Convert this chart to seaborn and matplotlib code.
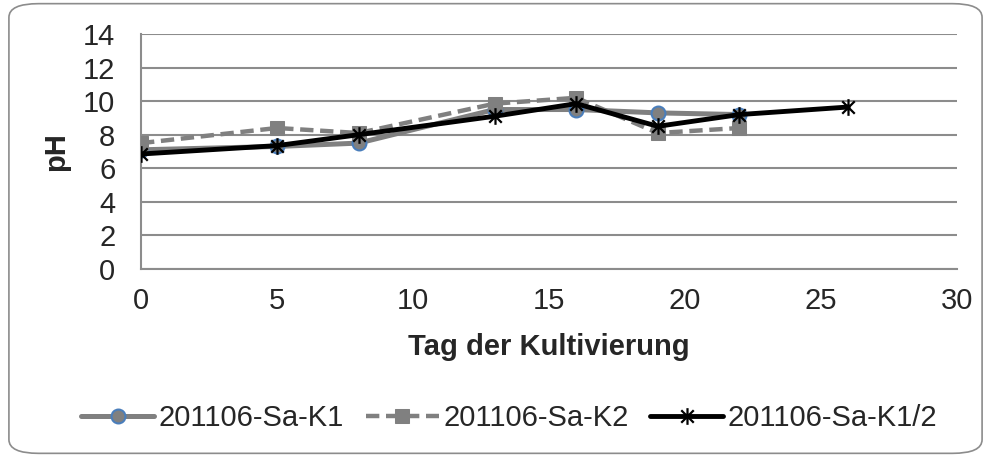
import numpy as np
import pandas as pd
import matplotlib
matplotlib.use("Agg")
import matplotlib.pyplot as plt
import seaborn as sns
from matplotlib.patches import FancyBboxPatch
from matplotlib.path import Path

# ------------------------------------------------------------------
# DATEN
# ------------------------------------------------------------------
tage_k1 = [0, 5, 8, 13, 16, 19, 22]
ph_k1 = [7.1, 7.3, 7.5, 9.5, 9.5, 9.3, 9.2]

tage_k2 = [0, 5, 8, 13, 16, 19, 22]
ph_k2 = [7.5, 8.4, 8.1, 9.85, 10.2, 8.1, 8.4]

tage_k12 = [0, 5, 8, 13, 16, 19, 22, 26]
ph_k12 = [6.85, 7.35, 8.0, 9.1, 9.85, 8.5, 9.2, 9.65]

serien = ["201106-Sa-K1", "201106-Sa-K2", "201106-Sa-K1/2"]

sns.set_style("white")
plt.rcParams['font.family'] = ['Liberation Sans', 'DejaVu Sans']

GRAU = '#808080'
GITTER = '#8c8c8c'
FS = 21

# Excel-Sternchen: X mit senkrechtem Strich
stern = Path([(0, -1), (0, 1), (-0.75, -0.75), (0.75, 0.75),
              (-0.75, 0.75), (0.75, -0.75)],
             [Path.MOVETO, Path.LINETO] * 3)

fig = plt.figure(figsize=(9.91, 4.57), dpi=100)
ax = fig.add_axes([0.1423, 0.4114, 0.8234, 0.5142])

# K1: graue Linie, Kreis mit blauem Rand
sns.lineplot(x=tage_k1, y=ph_k1, ax=ax, color=GRAU, linewidth=3.6,
             marker='o', markersize=10, markerfacecolor=GRAU,
             markeredgecolor='#4a7ebb', markeredgewidth=1.5,
             label=serien[0], sort=False, estimator=None, zorder=3)
# K2: gestrichelt, Quadrate
sns.lineplot(x=tage_k2, y=ph_k2, ax=ax, color=GRAU, linewidth=3.2,
             linestyle=(0, (3, 1.5)), marker='s', markersize=10,
             markerfacecolor=GRAU, markeredgecolor=GRAU,
             label=serien[1], sort=False, estimator=None, zorder=4)
# K1/2: schwarz, Sternchen
sns.lineplot(x=tage_k12, y=ph_k12, ax=ax, color='black', linewidth=3.5,
             marker=stern, markersize=12, markeredgecolor='black',
             markeredgewidth=1.6,
             label=serien[2], sort=False, estimator=None, zorder=5)

ax.set_xlim(0, 30)
ax.set_ylim(0, 14)
ax.set_xticks(np.arange(0, 31, 5))
ax.set_yticks(np.arange(0, 15, 2))
ax.yaxis.grid(True, color=GITTER, linewidth=1.5)
ax.xaxis.grid(False)
ax.set_axisbelow(True)

for s in ['top', 'right']:
    ax.spines[s].set_visible(False)
for s in ['left', 'bottom']:
    ax.spines[s].set_color(GITTER)
    ax.spines[s].set_linewidth(1.5)

ax.tick_params(axis='both', which='major', direction='out', length=5,
               width=1.5, color=GITTER, labelsize=FS)
ax.tick_params(axis='y', pad=13.5)
ax.tick_params(axis='x', pad=8)

ax.set_xlabel('Tag der Kultivierung', fontsize=FS, fontweight='bold', labelpad=13)
ax.set_ylabel('pH', fontsize=FS, fontweight='bold', labelpad=9)

leg = ax.legend(loc='center', bbox_to_anchor=(0.514, 0.085),
                bbox_transform=fig.transFigure, ncol=3, frameon=False,
                fontsize=FS, handlelength=2.5, handletextpad=0.15,
                columnspacing=0.75)

# abgerundeter Rahmen um die ganze Grafik
rahmen = FancyBboxPatch((0.009, 0.008), 0.982, 0.984,
                        boxstyle="round,pad=0,rounding_size=0.03",
                        transform=fig.transFigure, facecolor='none',
                        edgecolor='#8c8c8c', linewidth=1.2)
fig.patches.append(rahmen)

fig.savefig('out.png', dpi=100)
